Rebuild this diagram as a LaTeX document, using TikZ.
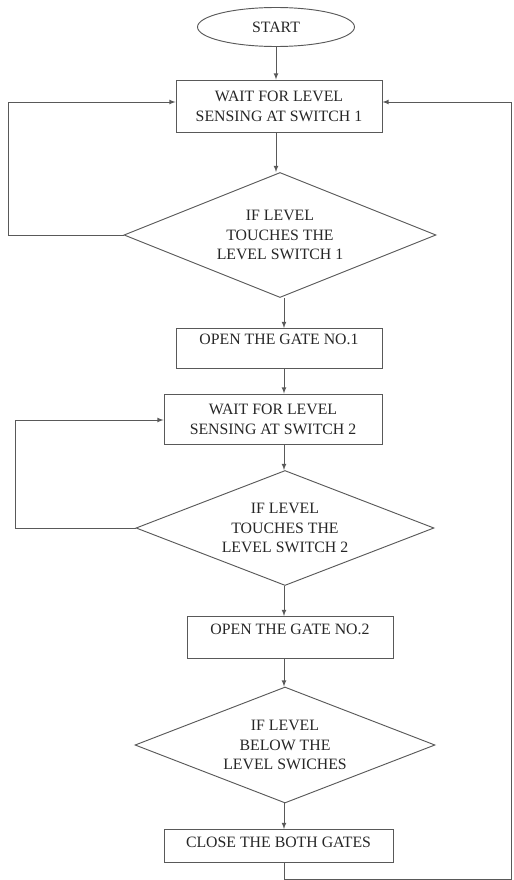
\documentclass[tikz,border=0pt]{standalone}
\usepackage{fontspec}
\setmainfont{Liberation Serif}
\usetikzlibrary{arrows,shapes.geometric}

\newcommand{\pxu}{0.3mm}

\begin{document}
\begin{tikzpicture}[x=0.3mm,y=-0.3mm,->,>=latex,thick,color=black!65,
  every node/.style={font=\fontsize{13.5}{17}\selectfont,text=black!85,align=center},
  step box/.style={rectangle,draw,inner sep=0pt},
  decision/.style={diamond,draw,aspect=2.5,inner sep=0pt},
  terminal/.style={ellipse,draw,inner sep=0pt}]
  \useasboundingbox (0,0) rectangle (513,880);
  \node[terminal,minimum width=157*\pxu,minimum height=39*\pxu] (start) at (276,27) {START};
  \node[step box,minimum width=206*\pxu,minimum height=52*\pxu] (wait_sw1) at (279,106) {WAIT FOR LEVEL\\SENSING AT SWITCH 1};
  \node[decision,minimum width=312*\pxu,minimum height=125*\pxu] (touch_sw1) at (280,235) {IF LEVEL\\TOUCHES THE\\LEVEL SWITCH 1};
  \node[step box,anchor=north,minimum width=206*\pxu,text height=14pt,text depth=20pt] (open_g1) at (279,328) {OPEN THE GATE NO.1};
  \node[step box,minimum width=218*\pxu,minimum height=50*\pxu] (wait_sw2) at (273,419) {WAIT FOR LEVEL\\SENSING AT SWITCH 2};
  \node[decision,minimum width=298*\pxu,minimum height=115*\pxu] (touch_sw2) at (285,528) {IF LEVEL\\TOUCHES THE\\LEVEL SWITCH 2};
  \node[step box,anchor=north,minimum width=206*\pxu,text height=15pt,text depth=20.7pt] (open_g2) at (290,616) {OPEN THE GATE NO.2};
  \node[decision,minimum width=300*\pxu,minimum height=116*\pxu] (below_sw) at (285,745) {IF LEVEL\\BELOW THE\\LEVEL SWICHES};
  \node[step box,anchor=north,minimum width=229*\pxu,text height=15pt,text depth=13pt] (close_g) at (278.5,829) {CLOSE THE BOTH GATES};
  \coordinate (spine) at (284,0);
  \coordinate (loop_a) at (8,102);
  \coordinate (loop_b) at (15,420);
  \coordinate (loop_c) at (511.5,879);
  \coordinate (loop_d) at (511.5,102);
  \path
    (start) edge (start |- wait_sw1.north)
    (start |- wait_sw1.south) edge (start |- touch_sw1.north)
    (spine |- touch_sw1.south) edge (spine |- open_g1.north)
    (spine |- open_g1.south) edge (spine |- wait_sw2.north)
    (spine |- wait_sw2.south) edge (spine |- touch_sw2.north)
    (spine |- touch_sw2.south) edge (spine |- open_g2.north)
    (spine |- open_g2.south) edge (spine |- below_sw.north)
    (spine |- below_sw.south) edge (spine |- close_g.north)
;
  \draw (touch_sw1.west) -| (loop_a) -- (loop_a -| wait_sw1.west);
  \draw (touch_sw2.west) -| (loop_b) -- (loop_b -| wait_sw2.west);
  \draw (spine |- close_g.south) |- (loop_c) -- (loop_d) -- (loop_d -| wait_sw1.east);
\end{tikzpicture}
\end{document}
